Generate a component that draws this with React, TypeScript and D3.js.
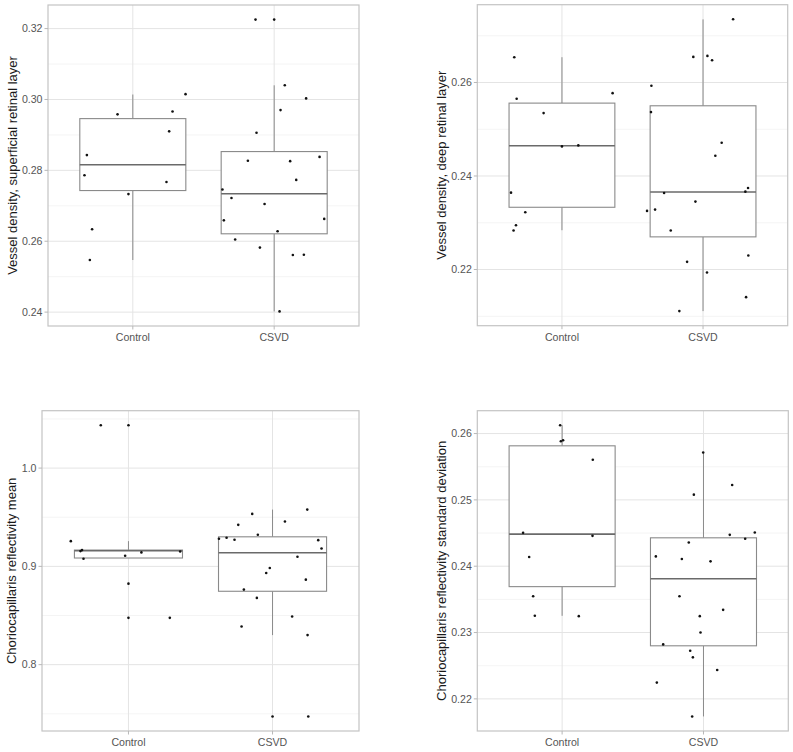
import React from "react";
import * as d3 from "d3";

const categories = ["Control", "CSVD"];

// Panel 1: Vessel density, superficial retinal layer
const svcpControlValues = [0.2958, 0.3015, 0.2966, 0.291, 0.2843, 0.2786, 0.2767, 0.2733, 0.2634, 0.2547];
const svcpControlJitter = [-0.108, 0.373, 0.281, 0.257, -0.325, -0.342, 0.238, -0.031, -0.288, -0.304];
const svcpCsvdValues = [0.32254, 0.32254, 0.304, 0.3003, 0.297, 0.2906, 0.2827, 0.2826, 0.2838, 0.2773, 0.2746, 0.2722, 0.2705, 0.2659, 0.2663, 0.2628, 0.2605, 0.2582, 0.2561, 0.2562, 0.2402];
const svcpCsvdJitter = [-0.132, 0.0, 0.075, 0.226, 0.045, -0.125, -0.186, 0.113, 0.321, 0.156, -0.366, -0.302, -0.068, -0.356, 0.354, 0.024, -0.276, -0.101, 0.132, 0.21, 0.038];
const svcpBoxControl = [0.2547, 0.2743, 0.2816, 0.2946, 0.3014];
const svcpBoxCsvd = [0.2402, 0.2621, 0.2734, 0.2853, 0.304];
const svcpTicks = [0.24, 0.26, 0.28, 0.3, 0.32];
const svcpMinor = [0.25, 0.27, 0.29, 0.31];

// Panel 2: Vessel density, deep retinal layer
const dcpControlValues = [0.26541, 0.25651, 0.25345, 0.24633, 0.24655, 0.25772, 0.23644, 0.23224, 0.22947, 0.22833];
const dcpControlJitter = [-0.338, -0.321, -0.13, 0.0, 0.116, 0.359, -0.361, -0.26, -0.326, -0.343];
const dcpCsvdValues = [0.27352, 0.26548, 0.26569, 0.26477, 0.25929, 0.25367, 0.24712, 0.24434, 0.23744, 0.23665, 0.23637, 0.23452, 0.23253, 0.23281, 0.22833, 0.22299, 0.22164, 0.21936, 0.21409, 0.2111];
const dcpCsvdJitter = [0.213, -0.069, 0.031, 0.064, -0.366, -0.369, 0.132, 0.087, 0.319, 0.3, -0.276, -0.054, -0.397, -0.34, -0.229, 0.321, -0.113, 0.028, 0.305, -0.168];
const dcpBoxControl = [0.2284, 0.23331, 0.24648, 0.25559, 0.26541];
const dcpBoxCsvd = [0.2111, 0.22698, 0.23658, 0.25502, 0.2735];
const dcpTicks = [0.22, 0.24, 0.26];
const dcpMinor = [0.21, 0.23, 0.25, 0.27];

// Panel 3: Choriocapillaris reflectivity mean
const ccMeanControlValues = [1.04358, 1.04358, 0.92568, 0.91554, 0.91655, 0.90777, 0.91081, 0.91419, 0.9152, 0.88243, 0.84764, 0.84764];
const ccMeanControlJitter = [-0.192, 0.0, -0.4, -0.333, -0.322, -0.312, -0.023, 0.09, 0.359, 0.0, 0.0, 0.287];
const ccMeanCsvdValues = [0.95338, 0.95777, 0.94223, 0.94561, 0.9321, 0.92804, 0.92905, 0.92703, 0.92669, 0.91824, 0.9098, 0.89831, 0.89324, 0.88649, 0.87635, 0.86791, 0.84899, 0.83885, 0.83007, 0.7473, 0.7473];
const ccMeanCsvdJitter = [-0.141, 0.241, -0.238, 0.086, -0.102, -0.372, -0.319, -0.264, 0.317, 0.34, 0.173, -0.019, -0.044, 0.231, -0.199, -0.109, 0.136, -0.215, 0.243, 0.0, 0.248];
const ccMeanBoxControl = [0.9085, 0.9085, 0.9159, 0.9166, 0.92568];
const ccMeanBoxCsvd = [0.83007, 0.87466, 0.91385, 0.93007, 0.95777];
const ccMeanTicks = [0.8, 0.9, 1.0];
const ccMeanMinor = [0.75, 0.85, 0.95, 1.05];

// Panel 4: Choriocapillaris reflectivity standard deviation
const ccSdControlValues = [0.26125, 0.25885, 0.259, 0.25605, 0.24503, 0.24458, 0.24138, 0.23547, 0.23252, 0.23247];
const ccSdControlJitter = [-0.014, -0.009, 0.007, 0.217, -0.276, 0.215, -0.233, -0.205, -0.193, 0.118];
const ccSdCsvdValues = [0.25715, 0.25224, 0.25079, 0.24508, 0.24473, 0.24413, 0.24358, 0.24148, 0.24108, 0.24073, 0.23547, 0.23342, 0.23247, 0.23001, 0.22821, 0.22726, 0.22626, 0.22436, 0.22245, 0.21735];
const ccSdCsvdJitter = [-0.002, 0.203, -0.068, 0.363, 0.186, 0.295, -0.104, -0.337, -0.153, 0.05, -0.17, 0.139, -0.026, -0.021, -0.285, -0.094, -0.075, 0.097, -0.33, -0.08];
const ccSdBoxControl = [0.23252, 0.23692, 0.24483, 0.25815, 0.26125];
const ccSdBoxCsvd = [0.21735, 0.228, 0.23812, 0.24428, 0.25715];
const ccSdTicks = [0.22, 0.23, 0.24, 0.25, 0.26];
const ccSdMinor = [0.225, 0.235, 0.245, 0.255];

type PanelProps = {
  x0: number; x1: number; y0: number; y1: number; titleX: number;
  title: string;
  values: number[][]; jitter: number[][]; boxes: number[][];
  ticks: number[]; minor: number[]; fmt: string;
};

function Panel(p: PanelProps) {
  const all = [...p.values.flat(), ...p.boxes.flat()];
  const [mn, mx] = d3.extent(all) as [number, number];
  const pad = (mx - mn) * 0.05;
  const y = d3.scaleLinear().domain([mn - pad, mx + pad]).range([p.y1, p.y0]);
  const x = d3.scaleLinear().domain([0.4, 2.6]).range([p.x0, p.x1]);
  const f = d3.format(p.fmt);
  const bw = 0.375;
  const minor = p.minor.filter((v) => y(v) >= p.y0 && y(v) <= p.y1);
  return (
    <g>
      {minor.map((v, i) => (
        <line key={"mi" + i} x1={p.x0} x2={p.x1} y1={y(v)} y2={y(v)} stroke="#f1f1f1" strokeWidth={0.8} />
      ))}
      {p.ticks.map((v, i) => (
        <line key={"ma" + i} x1={p.x0} x2={p.x1} y1={y(v)} y2={y(v)} stroke="#e4e4e4" strokeWidth={1} />
      ))}
      {categories.map((c, i) => (
        <line key={"vg" + i} x1={x(i + 1)} x2={x(i + 1)} y1={p.y0} y2={p.y1} stroke="#e4e4e4" strokeWidth={1} />
      ))}
      {p.boxes.map((b, i) => {
        const cx = x(i + 1);
        const l = x(i + 1 - bw);
        const r = x(i + 1 + bw);
        return (
          <g key={"b" + i} fill="none">
            <line x1={cx} x2={cx} y1={y(b[4])} y2={y(b[3])} stroke="#8a8a8a" strokeWidth={1} />
            <line x1={cx} x2={cx} y1={y(b[1])} y2={y(b[0])} stroke="#8a8a8a" strokeWidth={1} />
            <rect x={l} y={y(b[3])} width={r - l} height={y(b[1]) - y(b[3])} fill="white" stroke="#8a8a8a" strokeWidth={1.1} />
            <line x1={l} x2={r} y1={y(b[2])} y2={y(b[2])} stroke="#6a6a6a" strokeWidth={1.6} />
          </g>
        );
      })}
      {p.values.map((vals, gi) =>
        vals.map((v, i) => (
          <circle key={"p" + gi + "_" + i} cx={x(gi + 1 + p.jitter[gi][i])} cy={y(v)} r={1.3} fill="#111" />
        ))
      )}
      <rect x={p.x0} y={p.y0} width={p.x1 - p.x0} height={p.y1 - p.y0} fill="none" stroke="#c4c4c4" strokeWidth={1.2} />
      {p.ticks.map((v, i) => (
        <g key={"t" + i}>
          <line x1={p.x0 - 3.5} x2={p.x0} y1={y(v)} y2={y(v)} stroke="#b8b8b8" strokeWidth={1} />
          <text x={p.x0 - 5.5} y={y(v)} dy="0.35em" textAnchor="end" fontSize={10.6} fill="#555" fontFamily="Liberation Sans, Arial, sans-serif">
            {f(v)}
          </text>
        </g>
      ))}
      {categories.map((c, i) => (
        <g key={"c" + i}>
          <line x1={x(i + 1)} x2={x(i + 1)} y1={p.y1} y2={p.y1 + 3.5} stroke="#b8b8b8" strokeWidth={1} />
          <text x={x(i + 1)} y={p.y1 + 15} textAnchor="middle" fontSize={10.6} fill="#555" fontFamily="Liberation Sans, Arial, sans-serif">
            {c}
          </text>
        </g>
      ))}
      <text
        transform={`translate(${p.titleX},${(p.y0 + p.y1) / 2}) rotate(-90)`}
        textAnchor="middle"
        dy="0.35em"
        fontSize={13}
        fill="#1a1a1a"
        fontFamily="Liberation Sans, Arial, sans-serif"
      >
        {p.title}
      </text>
    </g>
  );
}

export default function App() {
  return (
    <svg width={793} height={752} style={{ position: "absolute", left: 0, top: 0, background: "white" }}>
      <rect width={793} height={752} fill="white" />
      <Panel x0={48} x1={359} y0={5} y1={326} titleX={12} title="Vessel density, superficial retinal layer"
        values={[svcpControlValues, svcpCsvdValues]} jitter={[svcpControlJitter, svcpCsvdJitter]}
        boxes={[svcpBoxControl, svcpBoxCsvd]} ticks={svcpTicks} minor={svcpMinor} fmt=".2f" />
      <Panel x0={477.3} x1={787.7} y0={4.7} y1={325.7} titleX={441.5} title="Vessel density, deep retinal layer"
        values={[dcpControlValues, dcpCsvdValues]} jitter={[dcpControlJitter, dcpCsvdJitter]}
        boxes={[dcpBoxControl, dcpBoxCsvd]} ticks={dcpTicks} minor={dcpMinor} fmt=".2f" />
      <Panel x0={42} x1={359} y0={410.7} y1={731} titleX={11} title="Choriocapillaris reflectivity mean"
        values={[ccMeanControlValues, ccMeanCsvdValues]} jitter={[ccMeanControlJitter, ccMeanCsvdJitter]}
        boxes={[ccMeanBoxControl, ccMeanBoxCsvd]} ticks={ccMeanTicks} minor={ccMeanMinor} fmt=".1f" />
      <Panel x0={477.3} x1={788.3} y0={410.7} y1={731} titleX={441} title="Choriocapillaris reflectivity standard deviation"
        values={[ccSdControlValues, ccSdCsvdValues]} jitter={[ccSdControlJitter, ccSdCsvdJitter]}
        boxes={[ccSdBoxControl, ccSdBoxCsvd]} ticks={ccSdTicks} minor={ccSdMinor} fmt=".2f" />
    </svg>
  );
}
